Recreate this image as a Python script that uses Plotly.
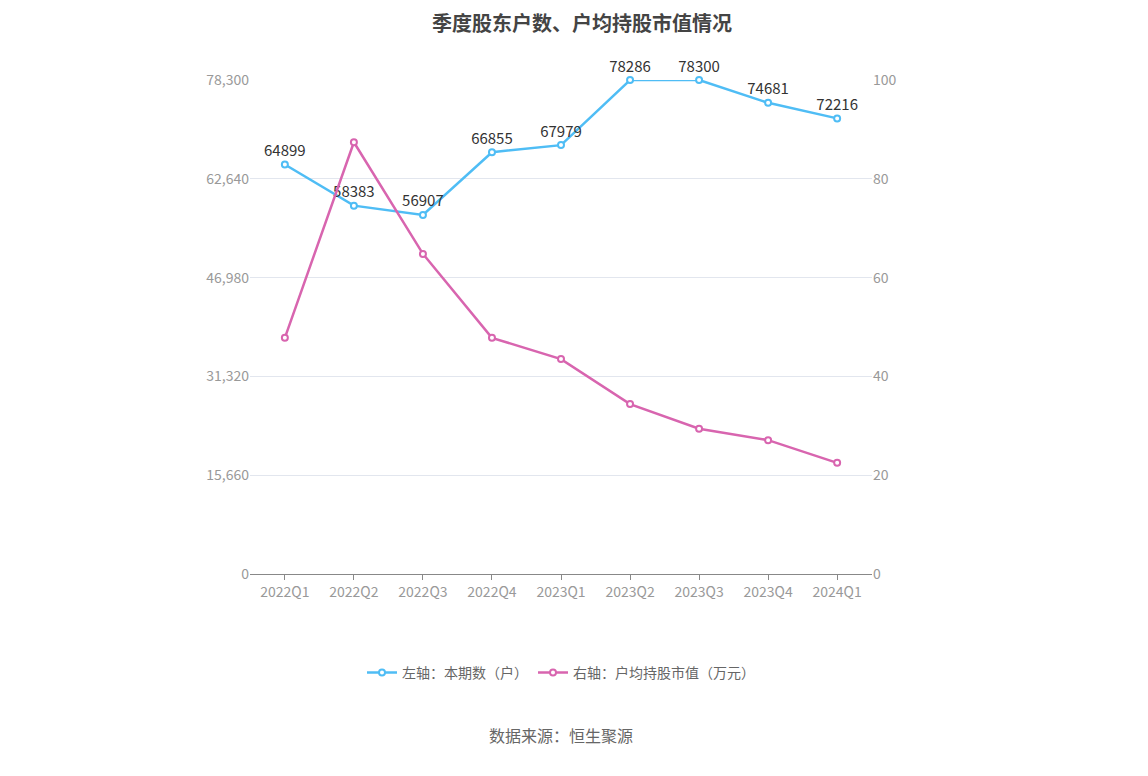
import plotly.graph_objects as go

quarters = ["2022Q1", "2022Q2", "2022Q3", "2022Q4", "2023Q1", "2023Q2", "2023Q3", "2023Q4", "2024Q1"]
holders = [64899, 58383, 56907, 66855, 67979, 78286, 78300, 74681, 72216]
avg_value = [47.8, 87.4, 64.8, 47.8, 43.5, 34.4, 29.4, 27.1, 22.5]
left_ticks = [0, 15660, 31320, 46980, 62640, 78300]

blue = "#4FBDF5"
pink = "#D865AF"

fig = go.Figure()
fig.add_trace(go.Scatter(
    x=quarters, y=holders, name="左轴：本期数（户）", mode="lines+markers+text",
    text=[str(v) for v in holders], textposition="top center", cliponaxis=False,
    textfont=dict(size=15, color="#333"),
    line=dict(color=blue, width=2.5),
    marker=dict(size=6, color="white", line=dict(color=blue, width=2)),
))
fig.add_trace(go.Scatter(
    x=quarters, y=avg_value, name="右轴：户均持股市值（万元）", mode="lines+markers",
    yaxis="y2", cliponaxis=False,
    line=dict(color=pink, width=2.5),
    marker=dict(size=6, color="white", line=dict(color=pink, width=2)),
))

fig.update_layout(
    width=1148, height=776,
    paper_bgcolor="white", plot_bgcolor="white",
    font=dict(family="Noto Sans CJK SC", color="#999", size=14),
    title=dict(text="<b>季度股东户数、户均持股市值情况</b>", x=0.5, y=0.988,
               font=dict(size=20, color="#444")),
    margin=dict(l=242, r=284, t=72, b=210),
    xaxis=dict(showline=True, linecolor="#888", ticks="outside", tickcolor="#888",
               showgrid=False),
    yaxis=dict(range=[0, 78300], tickvals=left_ticks, tickformat=",",
               gridcolor="#E2E6EE", zeroline=False),
    yaxis2=dict(range=[0, 100], tickvals=[0, 20, 40, 60, 80, 100], overlaying="y",
                side="right", showgrid=False, zeroline=False),
    legend=dict(orientation="h", x=0.5, xanchor="center", y=-0.2, yanchor="middle",
                font=dict(size=14, color="#666")),
    showlegend=True,
)
fig.add_annotation(text="数据来源：恒生聚源", x=0.5, xref="paper", y=-0.355, yref="paper",
                   showarrow=False, font=dict(size=16, color="#666"))

fig.write_html("out.html")
